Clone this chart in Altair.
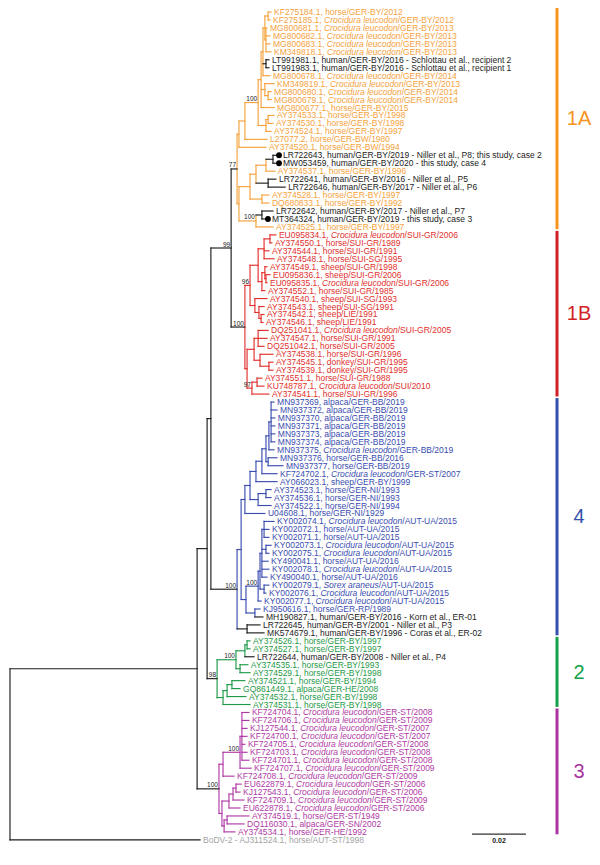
import altair as alt
import pandas as pd

# ---------------------------------------------------------------- data
labels = [
    "KF275184.1, horse/GER-BY/2012",
    "KF275185.1, *Crocidura leucodon*/GER-BY/2012",
    "MG800681.1, *Crocidura leucodon*/GER-BY/2013",
    "MG800682.1, *Crocidura leucodon*/GER-BY/2013",
    "MG800683.1, *Crocidura leucodon*/GER-BY/2013",
    "KM349818.1, *Crocidura leucodon*/GER-BY/2013",
    "LT991981.1, human/GER-BY/2016 - Schlottau et al., recipient 2",
    "LT991983.1, human/GER-BY/2016 - Schlottau et al., recipient 1",
    "MG800678.1, *Crocidura leucodon*/GER-BY/2014",
    "KM349819.1, *Crocidura leucodon*/GER-BY/2013",
    "MG800680.1, *Crocidura leucodon*/GER-BY/2014",
    "MG800679.1, *Crocidura leucodon*/GER-BY/2014",
    "MG800677.1, horse/GER-BY/2015",
    "AY374533.1, horse/GER-BY/1998",
    "AY374530.1, horse/GER-BY/1998",
    "AY374524.1, horse/GER-BY/1997",
    "L27077.2, horse/GER-BW/1980",
    "AY374520.1, horse/GER-BW/1994",
    "LR722643, human/GER-BY/2019 - Niller et al., P8; this study, case 2",
    "MW053459, human/GER-BY/2020 - this study, case 4",
    "AY374537.1, horse/GER-BY/1996",
    "LR722641, human/GER-BY/2016 - Niller et al., P5",
    "LR722646, human/GER-BY/2017 - Niller et al., P6",
    "AY374528.1, horse/GER-BY/1997",
    "DQ680833.1, horse/GER-BY/1992",
    "LR722642, human/GER-BY/2017 - Niller et al., P7",
    "MT364324, human/GER-BY/2019 - this study, case 3",
    "AY374525.1, horse/GER-BY/1997",
    "EU095834.1, *Crocidura leucodon*/SUI-GR/2006",
    "AY374550.1, horse/SUI-GR/1989",
    "AY374544.1, horse/SUI-GR/1991",
    "AY374548.1, horse/SUI-SG/1995",
    "AY374549.1, sheep/SUI-GR/1998",
    "EU095836.1, sheep/SUI-GR/2006",
    "EU095835.1, *Crocidura leucodon*/SUI-GR/2006",
    "AY374552.1, horse/SUI-GR/1985",
    "AY374540.1, sheep/SUI-SG/1993",
    "AY374543.1, sheep/SUI-SG/1991",
    "AY374542.1, sheep/LIE/1991",
    "AY374546.1, sheep/LIE/1991",
    "DQ251041.1, *Crocidura leucodon*/SUI-GR/2005",
    "AY374547.1, horse/SUI-GR/1991",
    "DQ251042.1, horse/SUI-GR/2005",
    "AY374538.1, horse/SUI-GR/1996",
    "AY374545.1, donkey/SUI-GR/1995",
    "AY374539.1, donkey/SUI-GR/1995",
    "AY374551.1, horse/SUI-GR/1988",
    "KU748787.1, *Crocidura leucodon*/SUI/2010",
    "AY374541.1, horse/SUI-GR/1996",
    "MN937369, alpaca/GER-BB/2019",
    "MN937372, alpaca/GER-BB/2019",
    "MN937370, alpaca/GER-BB/2019",
    "MN937371, alpaca/GER-BB/2019",
    "MN937373, alpaca/GER-BB/2019",
    "MN937374, alpaca/GER-BB/2019",
    "MN937375, *Crocidura leucodon*/GER-BB/2019",
    "MN937376, horse/GER-BB/2016",
    "MN937377, horse/GER-BB/2019",
    "KF724702.1, *Crocidura leucodon*/GER-ST/2007",
    "AY066023.1, sheep/GER-BY/1999",
    "AY374523.1, horse/GER-NI/1993",
    "AY374536.1, horse/GER-NI/1993",
    "AY374522.1, horse/GER-NI/1994",
    "U04608.1, horse/GER-NI/1929",
    "KY002074.1, *Crocidura leucodon*/AUT-UA/2015",
    "KY002072.1, horse/AUT-UA/2015",
    "KY002071.1, horse/AUT-UA/2015",
    "KY002073.1, *Crocidura leucodon*/AUT-UA/2015",
    "KY002075.1, *Crocidura leucodon*/AUT-UA/2015",
    "KY490041.1, horse/AUT-UA/2016",
    "KY002078.1, *Crocidura leucodon*/AUT-UA/2015",
    "KY490040.1, horse/AUT-UA/2016",
    "KY002079.1, *Sorex araneus*/AUT-UA/2015",
    "KY002076.1, *Crocidura leucodon*/AUT-UA/2015",
    "KY002077.1, *Crocidura leucodon*/AUT-UA/2015",
    "KJ950616.1, horse/GER-RP/1989",
    "MH190827.1, human/GER-BY/2016 - Korn et al., ER-01",
    "LR722645, human/GER-BY/2001 - Niller et al., P3",
    "MK574679.1, human/GER-BY/1996 - Coras et al., ER-02",
    "AY374526.1, horse/GER-BY/1997",
    "AY374527.1, horse/GER-BY/1997",
    "LR722644, human/GER-BY/2008 - Niller et al., P4",
    "AY374535.1, horse/GER-BY/1993",
    "AY374529.1, horse/GER-BY/1998",
    "AY374521.1, horse/GER-BY/1994",
    "GQ861449.1, alpaca/GER-HE/2008",
    "AY374532.1, horse/GER-BY/1998",
    "AY374531.1, horse/GER-BY/1998",
    "KF724704.1, *Crocidura leucodon*/GER-ST/2008",
    "KF724706.1, *Crocidura leucodon*/GER-ST/2009",
    "KJ127544.1, *Crocidura leucodon*/GER-ST/2007",
    "KF724700.1, *Crocidura leucodon*/GER-ST/2007",
    "KF724705.1, *Crocidura leucodon*/GER-ST/2008",
    "KF724703.1, *Crocidura leucodon*/GER-ST/2008",
    "KF724701.1, *Crocidura leucodon*/GER-ST/2008",
    "KF724707.1, *Crocidura leucodon*/GER-ST/2009",
    "KF724708.1, *Crocidura leucodon*/GER-ST/2009",
    "EU622879.1, *Crocidura leucodon*/GER-ST/2006",
    "KJ127543.1, *Crocidura leucodon*/GER-ST/2006",
    "KF724709.1, *Crocidura leucodon*/GER-ST/2009",
    "EU622878.1, *Crocidura leucodon*/GER-ST/2006",
    "AY374519.1, horse/GER-ST/1949",
    "DQ116030.1, alpaca/GER-SN/2002",
    "AY374534.1, horse/GER-HE/1992",
    "BoDV-2 - AJ311524.1, horse/AUT-ST/1998",
]

# root-to-tip distance of every leaf (substitutions/site)
tip_depth = [
    0.0967, 0.0963, 0.0952, 0.0963, 0.0963, 0.0967, 0.0959, 0.0959, 0.0963, 0.0978,
    0.0967, 0.0967, 0.0978, 0.0978, 0.0974, 0.0967, 0.0952, 0.0948, 0.0989, 0.0989,
    0.0981, 0.0985, 0.1019, 0.0959, 0.0959, 0.0974, 0.0948, 0.0974, 0.0985, 0.0970,
    0.0959, 0.0978, 0.0952, 0.0963, 0.0952, 0.0944, 0.0952, 0.0941, 0.0941, 0.0937,
    0.0956, 0.0952, 0.0941, 0.0974, 0.0974, 0.0974, 0.0933, 0.0941, 0.0959, 0.0978,
    0.0989, 0.0981, 0.0981, 0.0981, 0.0981, 0.0978, 0.0989, 0.1011, 0.0989, 0.0989,
    0.0967, 0.0967, 0.0967, 0.0944, 0.0978, 0.0959, 0.0959, 0.0967, 0.0959, 0.0956,
    0.0959, 0.0952, 0.0959, 0.0948, 0.0930, 0.0926, 0.0937, 0.0926, 0.0941, 0.0889,
    0.0889, 0.0904, 0.0881, 0.0889, 0.0870, 0.0852, 0.0874, 0.0889, 0.0885, 0.0885,
    0.0878, 0.0878, 0.0870, 0.0878, 0.0885, 0.0893, 0.0830, 0.0856, 0.0852, 0.0867,
    0.0852, 0.0885, 0.0867, 0.0833, 0.0704,
]

cluster_names = ["1A", "1B", "4", "2", "3"]
cluster_sizes = [28, 21, 30, 9, 16]
human_leaves = [6, 7, 18, 19, 21, 22, 25, 26, 76, 77, 78, 81]
case_leaves = [18, 19, 26]          # marked with a black dot (this study)

# topology: [node depth, bootstrap, children...]; an int child is a leaf index
tree = [0.0, None,
  [0.0693, None,
    [0.0730, None,
      [0.0744, None,
        [0.0819, 99,
          [0.0841, 77,
            [0.0848, None,
              [0.0870, None,
                [0.0919, 100,
                  [0.0930, None,
                    [0.0937, None,
                      [0.0944, None, [0.0956, None, 0, 1], [0.0948, None, 2, 3, 4, 5]],
                      [0.0948, None, 6, 7],
                      8],
                    [0.0944, None, 9, [0.0956, None, 10, 11]],
                    12],
                  [0.0948, None, [0.0956, None, 13, 14], 15]],
                16],
              17],
            [0.0848, None,
              [0.0889, None,
                [0.0911, None,
                  [0.0948, None, [0.0974, None, 18, 19], 20],
                  [0.0956, None, 21, 22]],
                [0.0933, None, 23, 24]],
              [0.0911, 100, [0.0933, None, 25, 26], 27]]],
          [0.0870, 100,
            [0.0889, 96,
              [0.0919, None,
                [0.0941, None, [0.0963, None, 28, 29], 30, 31],
                [0.0933, None, [0.0944, None, 32, [0.0948, None, 33, 34]], 35]],
              [0.0907, None, 36, [0.0922, None, 37, [0.0930, None, 38, 39]]]],
            [0.0878, None,
              [0.0904, None,
                [0.0919, None, 40, 41, 42],
                [0.0926, None, 43, [0.0959, None, 44, 45]]],
              [0.0896, 97, [0.0915, None, 46, 47], 48]]]],
        [0.0841, 100,
          [0.0856, None,
            [0.0870, None,
              [0.0889, None,
                [0.0911, None,
                  [0.0933, None,
                    [0.0948, None,
                      [0.0959, None, [0.0967, None, 49, 50, 51, 52, 53, 54], 55],
                      [0.0956, None, 56, 57]],
                    58],
                  59],
                [0.0919, None, [0.0948, None, 60, 61], 62]],
              63],
            [0.0874, None,
              [0.0919, 100,
                [0.0926, None,
                  [0.0933, None, [0.0941, None, 64, 65, 66], [0.0948, None, 67, 68], 69, 70, 71],
                  [0.0941, None, 72, 73]],
                74],
              [0.0907, None, 75, 76]]],
          [0.0878, None, 77, 78]]],
      [0.0767, 98,
        [0.0837, 100,
          [0.0870, None, [0.0878, None, 79, 80], 81],
          [0.0852, None, 82, 83]],
        [0.0789, None, [0.0804, None, [0.0822, None, 84, 85], 86], 87]]],
    [0.0774, 100,
      [0.0789, None,
        [0.0852, 100, [0.0859, None, 88, 89, 90, 91, 92, 93, 94], 95],
        96],
      [0.0785, None,
        [0.0811, None, [0.0826, None, [0.0837, None, 97, 98], 99], 100],
        [0.0793, None, [0.0804, None, 101, 102], 103]]]],
  104]

scale_bar_length = 0.02

# ---------------------------------------------------------------- styling
FONT = "Liberation Sans"
FS = 8.5
W_PLOT, H_PLOT = 584, 849
PX_PER_UNIT = 2700.0
ROOT_PX = 2.0
X_MIN = -ROOT_PX / PX_PER_UNIT
X_MAX = (W_PLOT - ROOT_PX) / PX_PER_UNIT
LEAF_STEP = 7.96
FIRST_PX = 4.0
Y_MIN = -FIRST_PX / LEAF_STEP
Y_MAX = (H_PLOT - FIRST_PX) / LEAF_STEP

LINE_COL = {"1A": "#F6A23C", "1B": "#E2302D", "4": "#3A4DB0", "2": "#1F9A48", "3": "#B03AA5"}
BAR_COL = {"1A": "#F7941D", "1B": "#D11F26", "4": "#3550AC", "2": "#13A24A", "3": "#A8329E"}
BLACK = "#1c1c1c"
GREY = "#a4a4a4"


def px(p):
    return p / PX_PER_UNIT


leaf_cluster = []
for c, n in zip(cluster_names, cluster_sizes):
    leaf_cluster += [c] * n
leaf_cluster.append("out")

AW = {' ': 278, ',': 278, '-': 333, '.': 278, '/': 278, ';': 278, ':': 278}
for ch in "0123456789":
    AW[ch] = 556
AW.update(dict(zip("ABCDEFGHIJKLMNOPQRSTUVWXYZ",
                   [667, 667, 722, 722, 667, 611, 778, 722, 278, 500, 667, 556, 833,
                    722, 778, 667, 778, 722, 667, 611, 722, 667, 944, 667, 667, 611])))
AW.update(dict(zip("abcdefghijklmnopqrstuvwxyz",
                   [556, 556, 500, 556, 556, 278, 556, 556, 222, 222, 500, 222, 833,
                    556, 556, 556, 556, 333, 500, 278, 556, 500, 722, 500, 500, 500])))


def text_px(s, size=FS):
    return sum(AW.get(ch, 556) for ch in s) / 1000.0 * size


def leaf_line_color(i):
    if i in human_leaves or leaf_cluster[i] == "out":
        return BLACK
    return LINE_COL[leaf_cluster[i]]


def leaves_of(node):
    if isinstance(node, int):
        return [node]
    out = []
    for k in node[2:]:
        out += leaves_of(k)
    return out


def node_color(node):
    lv = leaves_of(node)
    cl = {leaf_cluster[i] for i in lv}
    if len(cl) == 1 and "out" not in cl:
        if all(i in human_leaves for i in lv):
            return BLACK
        return LINE_COL[cl.pop()]
    return BLACK


segs, boots = [], []


def lay(node):
    if isinstance(node, int):
        return tip_depth[node], float(node)
    depth, bs = node[0], node[1]
    kids = node[2:]
    res = [lay(k) for k in kids]
    y = (res[0][1] + res[-1][1]) / 2.0
    col = node_color(node)
    segs.append(dict(x=depth, x2=depth, y=res[0][1], y2=res[-1][1], c=col))
    for k, (kx, ky) in zip(kids, res):
        if isinstance(k, int):
            hc = leaf_line_color(k)
        else:
            hc = BLACK if col == BLACK else node_color(k)
        segs.append(dict(x=depth, x2=kx, y=ky, y2=ky, c=hc))
    if bs:
        boots.append(dict(x=depth, y=y, t=str(bs)))
    return depth, y


lay(tree)
seg_df = pd.DataFrame(segs)
boot_df = pd.DataFrame(boots)

rows = []
for i, lab in enumerate(labels):
    if "*" in lab:
        pre, sp, post = lab.split("*")
    else:
        pre, sp, post = lab, "", ""
    if i in human_leaves:
        tc = BLACK
    elif leaf_cluster[i] == "out":
        tc = GREY
    else:
        tc = LINE_COL[leaf_cluster[i]]
    off = 6.0 if i in case_leaves else 3.0
    x0 = tip_depth[i] + px(off)
    x1 = x0 + px(text_px(pre))
    x2 = x1 + px(text_px(sp))
    rows.append(dict(y=float(i), pre=pre, sp=sp, post=post, xp=x0, xs=x1, xq=x2, tc=tc,
                     dot=tip_depth[i] + px(2.0), case=(i in case_leaves)))
lab_df = pd.DataFrame(rows)

bars = []
start = 0
for c, n in zip(cluster_names, cluster_sizes):
    bars.append(dict(y=start - 0.5, y2=start + n - 1 + 0.3, ym=start + (n - 1) / 2.0,
                     c=BAR_COL[c], name=c))
    start += n
bar_df = pd.DataFrame(bars)
BAR_X = px(557 - 10)
BAR_LABEL_X = px(579 - 10)
bar_df["bx"] = BAR_X
bar_df["lx"] = BAR_LABEL_X

SB_X0 = px(472 - 10)
sb_df = pd.DataFrame([dict(x=SB_X0, x2=SB_X0 + scale_bar_length, y=103.27,
                           xm=SB_X0 + scale_bar_length / 2, yt=104.15,
                           t=f"{scale_bar_length:.2f}")])

xs = alt.Scale(domain=[X_MIN, X_MAX], zero=False, nice=False)
ys = alt.Scale(domain=[Y_MIN, Y_MAX], zero=False, nice=False, reverse=True)
X = lambda f: alt.X(f"{f}:Q", scale=xs, axis=None)
Y = lambda f: alt.Y(f"{f}:Q", scale=ys, axis=None)

branches = alt.Chart(seg_df).mark_rule(strokeWidth=1.15, strokeCap="square").encode(
    x=X("x"), x2="x2", y=Y("y"), y2="y2", color=alt.Color("c:N", scale=None))

dots = alt.Chart(lab_df[lab_df["case"]]).mark_circle(size=34, opacity=1, color="#000000").encode(
    x=X("dot"), y=Y("y"))

txt_pre = alt.Chart(lab_df).mark_text(align="left", baseline="middle", font=FONT, fontSize=FS).encode(
    x=X("xp"), y=Y("y"), text="pre:N", color=alt.Color("tc:N", scale=None))
txt_sp = alt.Chart(lab_df[lab_df["sp"] != ""]).mark_text(
    align="left", baseline="middle", font=FONT, fontSize=FS, fontStyle="italic").encode(
    x=X("xs"), y=Y("y"), text="sp:N", color=alt.Color("tc:N", scale=None))
txt_post = alt.Chart(lab_df[lab_df["post"] != ""]).mark_text(
    align="left", baseline="middle", font=FONT, fontSize=FS).encode(
    x=X("xq"), y=Y("y"), text="post:N", color=alt.Color("tc:N", scale=None))

boot_txt = alt.Chart(boot_df).mark_text(align="right", baseline="bottom", dx=-1, dy=-0.5,
                                        font=FONT, fontSize=6.5, color="#222222").encode(
    x=X("x"), y=Y("y"), text="t:N")

cl_bars = alt.Chart(bar_df).mark_rule(strokeWidth=3).encode(
    x=X("bx"), y=Y("y"), y2="y2", color=alt.Color("c:N", scale=None))
cl_text = alt.Chart(bar_df).mark_text(align="center", baseline="middle", font=FONT, fontSize=20).encode(
    x=X("lx"), y=Y("ym"), text="name:N", color=alt.Color("c:N", scale=None))

sb_rule = alt.Chart(sb_df).mark_rule(strokeWidth=1.3, color="#333333").encode(
    x=X("x"), x2="x2", y=Y("y"))
sb_text = alt.Chart(sb_df).mark_text(align="center", baseline="middle", font=FONT, fontSize=7,
                                     fontWeight="bold", color="#222222").encode(
    x=X("xm"), y=Y("yt"), text="t:N")

chart = alt.layer(branches, txt_pre, txt_sp, txt_post, dots, boot_txt, cl_bars, cl_text,
                  sb_rule, sb_text).properties(
    width=W_PLOT, height=H_PLOT, padding=0,
    autosize=alt.AutoSizeParams(type="none"),
).configure_view(stroke=None)

chart.save("out.html", embed_options={"renderer": "svg", "actions": False})
